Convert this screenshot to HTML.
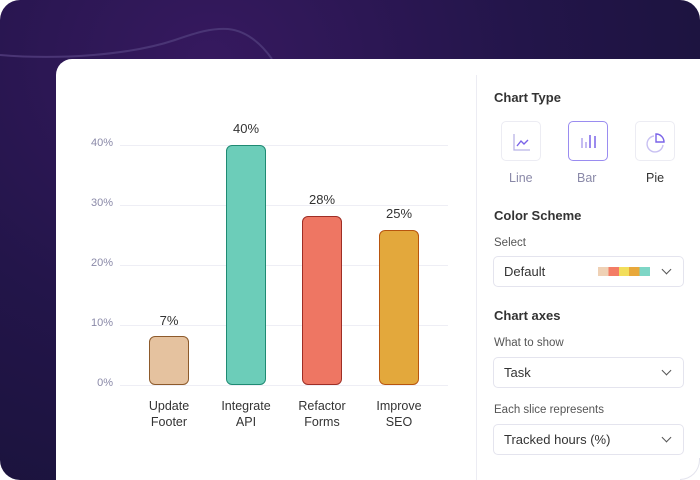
<!DOCTYPE html>
<html><head><style>
*{margin:0;padding:0;box-sizing:border-box}
body{width:700px;height:480px;background:#fff;font-family:"Liberation Sans",sans-serif;position:relative;overflow:hidden}
.bg{position:absolute;left:0;top:0;width:700px;height:480px;border-radius:20px 20px 0 20px;background:radial-gradient(ellipse at 210px 60px,#36195f 0%,#23154a 45%,#161235 100%);overflow:hidden}
.card{position:absolute;left:56px;top:59px;width:644px;height:421px;background:#fff;border-radius:16px 0 0 0}
.t{position:absolute;white-space:nowrap}
.grid{position:absolute;left:120px;width:328px;height:1px;background:#eeeef5}
.yl{position:absolute;left:80px;width:33px;text-align:right;font-size:11px;color:#8a89a8}
.bar{position:absolute;width:40px;border-radius:6px;border:1px solid}
.vl{position:absolute;width:60px;text-align:center;font-size:13px;color:#333}
.xl{position:absolute;width:90px;text-align:center;font-size:12.5px;color:#333;line-height:16px}
.h{font-size:13px;font-weight:bold;color:#333}
.s{font-size:11.5px;color:#555}
.dd{position:absolute;left:493px;width:191px;height:31px;border:1px solid #e4e4ee;border-radius:5px;font-size:13px;color:#333;padding:7px 10px}
.chev{position:absolute;right:13px;top:9px;width:7px;height:7px;border-right:1.3px solid #555;border-bottom:1.3px solid #555;transform:rotate(45deg)}
.ib{position:absolute;top:121px;width:40px;height:40px;border:1px solid #ececf3;border-radius:5px}
</style></head><body>
<div class="bg"><svg width="700" height="480" style="position:absolute;left:0;top:0"><path d="M0 55 C60 60 130 55 175 40 C198 32 212 28 228 29 C248 31 262 45 272 59" stroke="#4a3575" stroke-width="2" fill="none"/></svg></div>
<div class="card"></div>
<div style="position:absolute;left:680px;top:458px;width:20px;height:22px;border-right:1px solid #e4e4ee;border-bottom:1px solid #e4e4ee;border-radius:0 0 20px 0;right:2px"></div>
<div style="position:absolute;left:476px;top:75px;width:1px;height:405px;background:#ececf3"></div>

<div class="grid" style="top:145px"></div><div class="grid" style="top:205px"></div><div class="grid" style="top:265px"></div><div class="grid" style="top:325px"></div><div class="grid" style="top:385px"></div>
<div class="yl" style="top:137px">40%</div><div class="yl" style="top:197px">30%</div><div class="yl" style="top:257px">20%</div><div class="yl" style="top:317px">10%</div><div class="yl" style="top:377px">0%</div>

<div class="bar" style="left:149px;top:336px;height:49px;background:#e5c29f;border-color:#8d5a2b"></div>
<div class="bar" style="left:226px;top:145px;height:240px;background:#6ccdb9;border-color:#1f8a73"></div>
<div class="bar" style="left:302px;top:216px;height:169px;background:#ee7663;border-color:#9e2e25"></div>
<div class="bar" style="left:379px;top:230px;height:155px;background:#e3a83c;border-color:#b8550e"></div>

<div class="vl" style="left:139px;top:313px">7%</div>
<div class="vl" style="left:216px;top:121px">40%</div>
<div class="vl" style="left:292px;top:192px">28%</div>
<div class="vl" style="left:369px;top:206px">25%</div>

<div class="xl" style="left:124px;top:398px">Update<br>Footer</div>
<div class="xl" style="left:201px;top:398px">Integrate<br>API</div>
<div class="xl" style="left:277px;top:398px">Refactor<br>Forms</div>
<div class="xl" style="left:354px;top:398px">Improve<br>SEO</div>

<div class="t h" style="left:494px;top:90px">Chart Type</div>
<div class="ib" style="left:501px"><svg width="40" height="40"><path d="M12 12V28H28" stroke="#b9b3e6" stroke-width="1.3" fill="none"/><path d="M15 24L19 19L22 22L26 18" stroke="#7a63e8" stroke-width="1.4" fill="none"/></svg></div>
<div class="ib" style="left:568px;border-color:#9a8cf0"><svg width="40" height="40"><path d="M13 16V26M17 20V26M21 13V26M26 14V26" stroke="#7a63e8" stroke-width="1.5"/><path d="M13 16V26M17 20V26" stroke="#c8c0f2" stroke-width="1.5"/></svg></div>
<div class="ib" style="left:635px"><svg width="40" height="40"><path d="M18 14A8 8 0 1 0 27 23" stroke="#c8c0f2" stroke-width="1.4" fill="none"/><path d="M20 12A8 8 0 0 1 28 20H20Z" stroke="#7a63e8" stroke-width="1.4" fill="none"/></svg></div>
<div class="t" style="left:509px;top:171px;font-size:12.5px;color:#8a89a8">Line</div>
<div class="t" style="left:577px;top:171px;font-size:12.5px;color:#8a89a8">Bar</div>
<div class="t" style="left:646px;top:171px;font-size:12.5px;color:#333">Pie</div>

<div class="t h" style="left:494px;top:208px">Color Scheme</div>
<div class="t s" style="left:494px;top:237px">Select</div>
<div class="dd" style="top:256px">Default
<div style="position:absolute;left:104px;top:10px;height:9px;width:52px;background:linear-gradient(90deg,#efd1b5 0 20%,#f37c65 20% 40%,#f2de5b 40% 60%,#e8a83b 60% 80%,#7ed6c6 80%)"></div><div class="chev"></div></div>

<div class="t h" style="left:494px;top:308px">Chart axes</div>
<div class="t s" style="left:494px;top:337px">What to show</div>
<div class="dd" style="top:357px">Task<div class="chev"></div></div>
<div class="t s" style="left:494px;top:404px">Each slice represents</div>
<div class="dd" style="top:424px">Tracked hours (%)<div class="chev"></div></div>
</body></html>
